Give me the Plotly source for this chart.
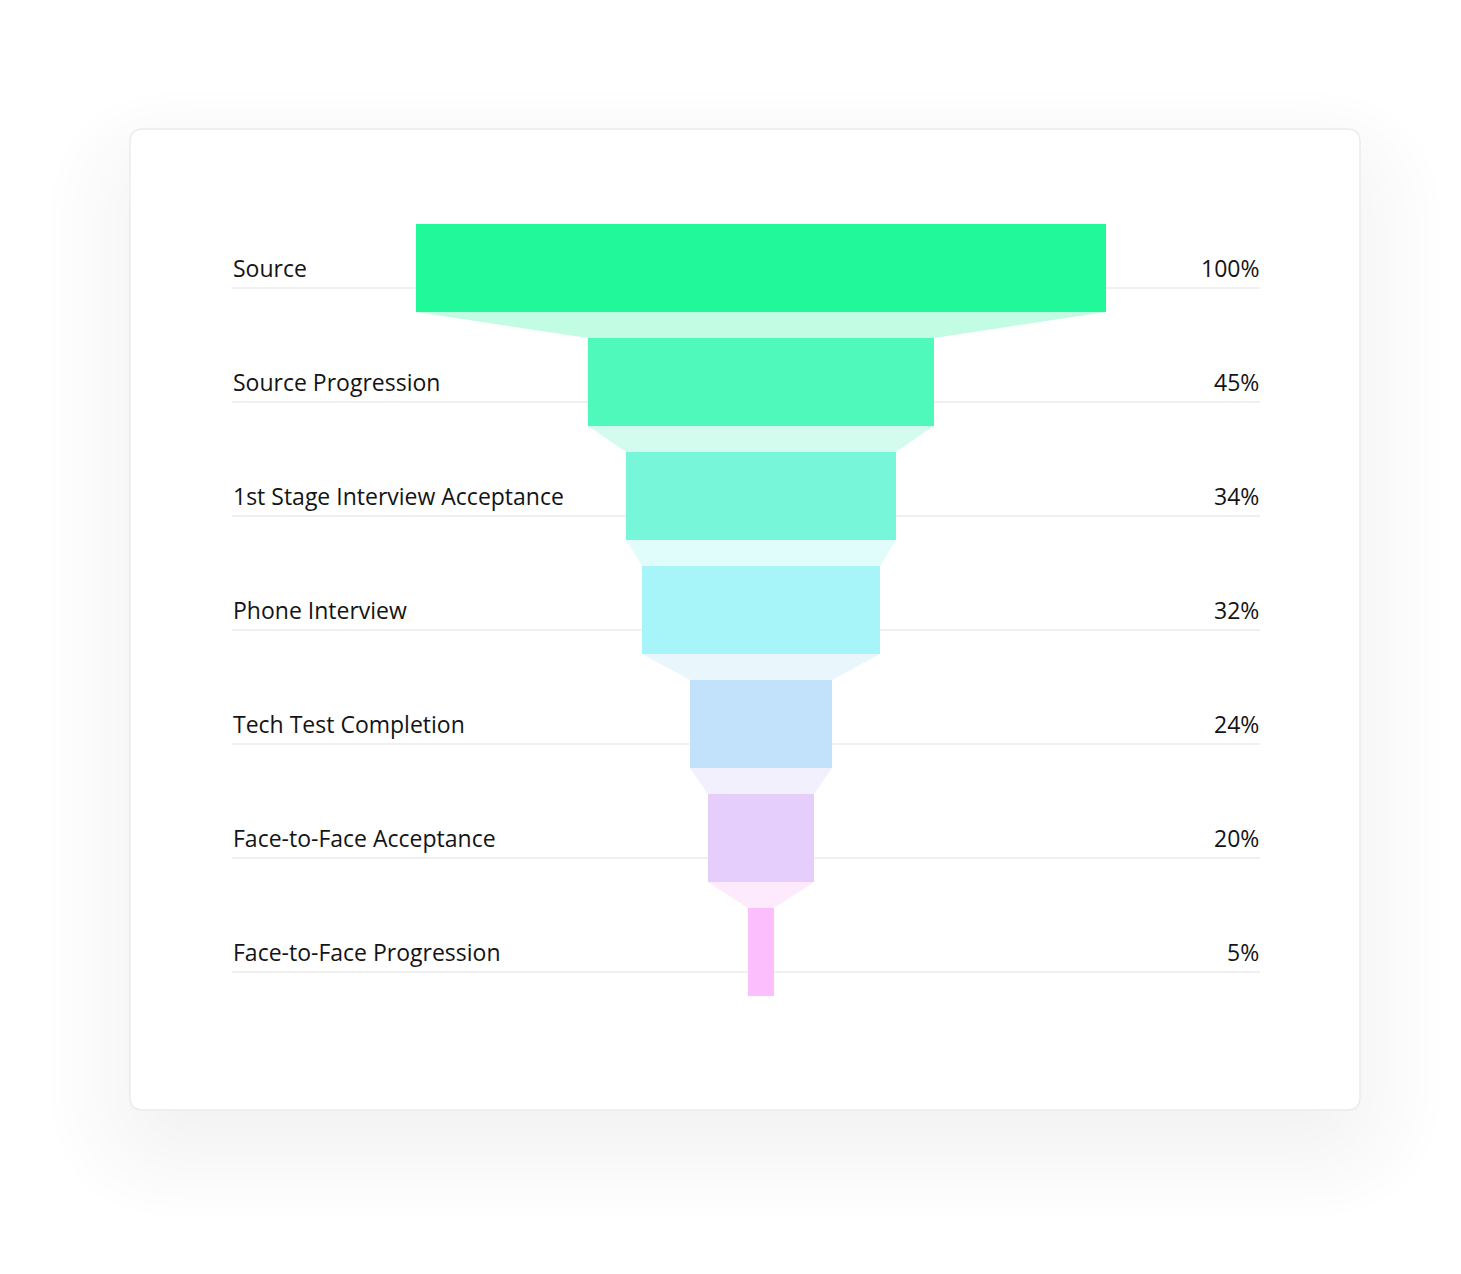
import plotly.graph_objects as go

# ---- data ----
stages = [
    "Source",
    "Source Progression",
    "1st Stage Interview Acceptance",
    "Phone Interview",
    "Tech Test Completion",
    "Face-to-Face Acceptance",
    "Face-to-Face Progression",
]
pct_labels = ["100%", "45%", "34%", "32%", "24%", "20%", "5%"]
# relative drawn widths of the funnel bars (Source = 100)
bar_widths = [100, 50.1, 39.1, 34.5, 20.6, 15.4, 3.8]
bar_colors = ["#20F89A", "#4FF8BB", "#78F6DA", "#A8F5F9", "#C2E2FB", "#E6CEFC", "#FDBEFD"]
connector_colors = ["#C2FCE3", "#D3FCEF", "#E0FCFB", "#E9F6FC", "#F2F0FD", "#FDEAFD"]

W, H = 1461, 1274
FONT = "Open Sans"

fig = go.Figure()

n = len(stages)
ypos = list(range(n))
half = 0.386  # half bar thickness in row units

# connectors
for i in range(n - 1):
    a = bar_widths[i] / 2
    b = bar_widths[i + 1] / 2
    fig.add_trace(go.Scatter(
        x=[-a, a, b, -b, -a],
        y=[i + half, i + half, i + 1 - half, i + 1 - half, i + half],
        fill="toself", fillcolor=connector_colors[i],
        mode="lines", line=dict(width=0, color=connector_colors[i]),
        hoverinfo="skip", showlegend=False,
    ))

# bars
fig.add_trace(go.Bar(
    y=ypos, x=bar_widths, base=[-w / 2 for w in bar_widths],
    orientation="h", width=2 * half,
    marker=dict(color=bar_colors, line=dict(width=0)),
    hoverinfo="skip", showlegend=False,
))

x_left_px, x_right_px = 232, 1260
y_top_px, y_bot_px = 211, 1009
center_px = 761
unit = 6.9  # px per width unit
xr = [(x_left_px - center_px) / unit, (x_right_px - center_px) / unit]

shapes = []

def rrect(x0, y0, x1, y1, r):
    X = lambda p: p / W
    Y = lambda p: 1 - p / H
    return (f"M {X(x0 + r)} {Y(y0)} L {X(x1 - r)} {Y(y0)} Q {X(x1)} {Y(y0)} {X(x1)} {Y(y0 + r)} "
            f"L {X(x1)} {Y(y1 - r)} Q {X(x1)} {Y(y1)} {X(x1 - r)} {Y(y1)} "
            f"L {X(x0 + r)} {Y(y1)} Q {X(x0)} {Y(y1)} {X(x0)} {Y(y1 - r)} "
            f"L {X(x0)} {Y(y0 + r)} Q {X(x0)} {Y(y0)} {X(x0 + r)} {Y(y0)} Z")

# soft card shadow (stacked faint layers, heavier below the card)
cx0, cy0, cx1, cy1 = 130, 129, 1360, 1110
for k in range(13, 0, -1):
    e = k * 9
    shapes.append(dict(type="path", xref="paper", yref="paper", layer="below",
                       path=rrect(cx0 + 60 - 1.2 * e, cy0 + 80 - e, cx1 - 60 + 1.2 * e, cy1 - 10 + e, 20 + e),
                       fillcolor="rgba(0,0,0,0.004)", line=dict(width=0)))
shapes.append(dict(type="path", xref="paper", yref="paper", layer="below",
                   path=rrect(cx0, cy0, cx1, cy1, 13),
                   fillcolor="#FFFFFF", line=dict(width=1.5, color="#EBEBEB")))

# row rules
for i in range(n):
    shapes.append(dict(type="line", xref="paper", yref="y", layer="below",
                       x0=x_left_px / W, x1=x_right_px / W, y0=i + 20 / 114, y1=i + 20 / 114,
                       line=dict(color="#F0F0F0", width=2)))

annotations = []
for i in range(n):
    annotations.append(dict(xref="paper", yref="y", x=(x_left_px - 1) / W, y=i,
                            text=stages[i], showarrow=False, xanchor="left", yanchor="middle",
                            yshift=0.5, font=dict(family=FONT, size=23, color="#141414")))
    annotations.append(dict(xref="paper", yref="y", x=(x_right_px + 1) / W, y=i,
                            text=pct_labels[i], showarrow=False, xanchor="right", yanchor="middle",
                            yshift=0.5, font=dict(family=FONT, size=23, color="#141414")))

fig.update_layout(
    width=W, height=H,
    margin=dict(l=0, r=0, t=0, b=0),
    paper_bgcolor="#FFFFFF", plot_bgcolor="rgba(0,0,0,0)",
    xaxis=dict(domain=[x_left_px / W, x_right_px / W], range=xr, visible=False, fixedrange=True),
    yaxis=dict(domain=[1 - y_bot_px / H, 1 - y_top_px / H], range=[n - 0.5, -0.5],
               visible=False, fixedrange=True),
    shapes=shapes, annotations=annotations,
    showlegend=False, bargap=0,
)

fig.write_html("out.html", config={"displayModeBar": False},
               post_script="document.body.style.margin='0';document.body.style.overflow='hidden';")
